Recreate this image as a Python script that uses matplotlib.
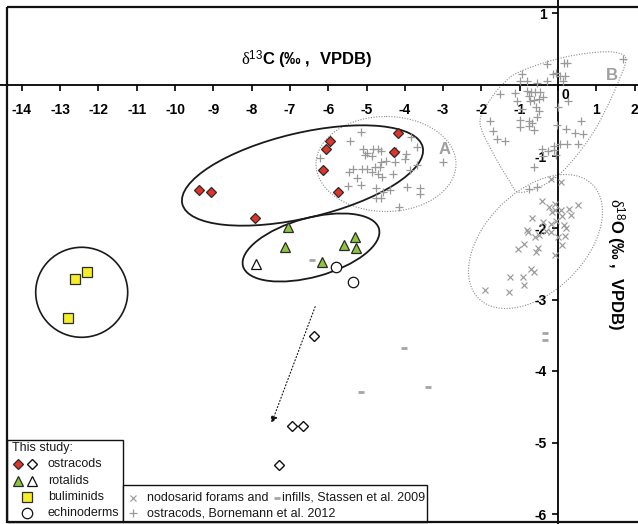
import numpy as np
import matplotlib
matplotlib.use('Agg')
import matplotlib.pyplot as plt
import matplotlib.transforms as mtransforms
from matplotlib.patches import Ellipse, Rectangle

plt.rcParams['font.family'] = ['Liberation Sans', 'DejaVu Sans']
plt.rcParams['mathtext.fontset'] = 'custom'
plt.rcParams['mathtext.rm'] = 'Liberation Serif'
plt.rcParams['mathtext.bf'] = 'Liberation Sans:bold'
plt.rcParams['mathtext.sf'] = 'Liberation Sans'
plt.rcParams['mathtext.it'] = 'Liberation Serif:italic'

# ---------------- data ----------------
ostracod_filled_x = [-4.17, -5.95, -6.06, -4.27, -6.13, -5.75, -9.37, -9.06, -7.91]
ostracod_filled_y = [-0.67, -0.78, -0.89, -0.94, -1.19, -1.49, -1.47, -1.49, -1.86]
ostracod_open_x = [-6.36, -6.95, -6.65, -7.28]
ostracod_open_y = [-3.51, -4.77, -4.77, -5.32]
rotalid_filled_x = [-7.04, -7.13, -5.29, -5.58, -5.27, -6.15]
rotalid_filled_y = [-1.99, -2.27, -2.12, -2.24, -2.28, -2.48]
rotalid_open_x = [-7.89]
rotalid_open_y = [-2.50]
buliminid_x = [-12.29, -12.60, -12.80]
buliminid_y = [-2.61, -2.71, -3.26]
echinoderm_x = [-5.80, -5.36]
echinoderm_y = [-2.55, -2.75]
infill_x = [-6.43, -4.01, -5.15, -3.40, -0.34, -0.34]
infill_y = [-2.45, -3.68, -4.29, -4.22, -3.47, -3.57]

bornemann_x = [
    # group A
    -5.15, -3.84, -5.43, -3.69, -5.10, -4.82, -4.69, -4.99, -4.63, -4.23, -3.97, -6.21,
    -5.04, -4.86, -4.49, -4.62, -4.26, -3.99, -3.01, -5.34, -5.13, -4.99, -4.78, -4.65,
    -5.45, -4.86, -4.69, -4.32, -5.26, -4.60, -3.86, -3.69, -5.47, -5.15, -4.76, -4.39,
    -3.95, -3.60, -3.60, -4.58, -4.75, -4.63, -4.14,
    # group B
    1.69, -0.28, 0.16, 0.24, -0.95, -1.00, -0.82, -0.56, -0.28, -0.14, -0.05, 0.05, 0.19,
    0.14, -1.51, -1.12, -0.82, -0.71, -0.60, -0.47, -0.77, -1.06, -0.73, -0.63, -0.49,
    -0.38, 0.27, -0.95, -0.57, -0.49, 0.01, -1.78, -1.00, -0.77, -0.54, -0.69, -1.00,
    -0.75, -0.63, -1.69, -1.59, -1.39, 0.59, -0.03, 0.21, 0.45, 0.65, 0.24, 0.53, 0.05,
    -0.10, -0.43, -0.27, -0.10, -0.05, -0.38, -0.63, -0.77, -0.54]
bornemann_y = [
    -0.66, -0.73, -0.79, -0.87, -0.89, -0.89, -0.89, -0.95, -0.92, -0.93, -0.96, -1.02,
    -0.98, -0.99, -1.06, -1.07, -1.07, -1.04, -1.07, -1.17, -1.17, -1.17, -1.14, -1.15,
    -1.22, -1.22, -1.25, -1.25, -1.30, -1.28, -1.19, -1.12, -1.41, -1.40, -1.44, -1.47,
    -1.42, -1.44, -1.52, -1.50, -1.58, -1.58, -1.70,
    0.36, 0.29, 0.31, 0.31, 0.16, 0.06, 0.06, 0.03, 0.06, 0.15, 0.17, 0.12, 0.13,
    0.06, -0.13, -0.11, -0.08, -0.10, -0.10, -0.10, -0.15, -0.22, -0.22, -0.21, -0.20,
    -0.17, -0.23, -0.33, -0.31, -0.36, -0.31, -0.50, -0.49, -0.50, -0.45, -0.53, -0.59,
    -0.58, -0.63, -0.65, -0.76, -0.79, -0.50, -0.56, -0.61, -0.67, -0.68, -0.82, -0.82,
    -0.82, -0.85, -0.90, -0.92, -0.91, -0.98, -1.00, -1.14, -1.46, -1.42]

stassen_x = [-0.18, 0.07, -0.43, -0.23, -0.09, -0.08, -0.15, 0.08, 0.11, 0.29, 0.34, 0.53,
             -0.67, -0.38, -0.17, -0.04, 0.16, 0.20, -0.82, -0.78, -0.60, -0.49, -0.32, -0.18,
             -0.01, 0.18, 0.11, -0.88, -1.05, -0.53, -0.58, -0.08, -0.70, -0.62, -1.25, -0.91,
             -0.88, -1.28, -1.91]
stassen_y = [-1.31, -1.35, -1.62, -1.70, -1.67, -1.75, -1.78, -1.75, -1.83, -1.73, -1.82, -1.68,
             -1.86, -1.91, -1.95, -1.90, -1.96, -2.00, -2.03, -2.06, -2.12, -2.10, -2.04, -2.06,
             -2.13, -2.11, -2.24, -2.23, -2.29, -2.28, -2.34, -2.38, -2.57, -2.61, -2.69, -2.69,
             -2.80, -2.89, -2.87]

arrow_start = (-6.34, -3.10)
arrow_end = (-7.48, -4.73)

x_ticks = list(range(-14, 3))
y_ticks = [-6, -5, -4, -3, -2, -1, 1]

# ---------------- figure ----------------
W, H = 638, 524
fig = plt.figure(figsize=(W / 100, H / 100), dpi=100)
ax = fig.add_axes([0, 0, 1, 1])
# pixel -> display transform (origin top-left)
T = mtransforms.Affine2D().scale(1 / W, -1 / H).translate(0, 1) + fig.transFigure

X0, SX, Y0, SY = 558.0, 38.3, 85.0, 71.5
xlim = (-X0 / SX, (W - X0) / SX)
ylim = ((Y0 - H) / SY, Y0 / SY)

RED = '#e2332b'
GREEN = '#8cc63e'
YELLOW = '#f7ee2a'
EDGE = '#2b2b2b'
GRAY = '#999999'

# group outlines (pixel space)
ax.add_patch(Ellipse((302.5, 175.5), 247, 85, angle=-13.3, transform=T, fill=False,
                     ec='#1a1a1a', lw=1.3, zorder=2))
ax.add_patch(Ellipse((311, 247.5), 141, 59, angle=-15.4, transform=T, fill=False,
                     ec='#1a1a1a', lw=1.3, zorder=2))
ax.add_patch(Ellipse((81.7, 292.3), 92, 90, angle=0, transform=T, fill=False,
                     ec='#1a1a1a', lw=1.2, zorder=2))
dot = (0, (1, 1.4))
ax.add_patch(Ellipse((386, 164), 140, 95, angle=0, transform=T, fill=False,
                     ec='#8a8a8a', lw=0.8, ls=dot, zorder=1))
ax.add_patch(Ellipse((535.5, 241.5), 161, 100, angle=-45, transform=T, fill=False,
                     ec='#8a8a8a', lw=0.8, ls=dot, zorder=1))


def catmull_closed(pts, n=16):
    P = np.array(pts, float)
    N = len(P)
    out = []
    t = np.linspace(0, 1, n, endpoint=False)[:, None]
    for i in range(N):
        p0, p1, p2, p3 = P[i - 1], P[i], P[(i + 1) % N], P[(i + 2) % N]
        out.append(0.5 * ((2 * p1) + (-p0 + p2) * t + (2 * p0 - 5 * p1 + 4 * p2 - p3) * t ** 2
                          + (-p0 + 3 * p1 - 3 * p2 + p3) * t ** 3))
    out = np.vstack(out)
    return np.vstack([out, out[:1]])


B_outline = [(480, 122), (492, 97), (503, 84), (515, 74), (540, 64), (570, 56), (600, 52),
             (618, 53), (626, 60), (617, 85), (607, 107), (593, 133), (573, 160), (555, 178),
             (535, 189), (518, 192), (510, 182), (493, 153)]
bc = catmull_closed(B_outline)
ax.plot(bc[:, 0], bc[:, 1], transform=T, color='#8a8a8a', lw=0.8, ls=dot, zorder=1)

# literature data
ax.plot(bornemann_x, bornemann_y, '+', ls='none', color=GRAY, ms=5.6, mew=0.9, zorder=3)
ax.plot(stassen_x, stassen_y, 'x', ls='none', color=GRAY, ms=4.4, mew=0.85, zorder=3)
ax.plot(infill_x, infill_y, '_', ls='none', color='#a5a5a5', ms=4, mew=2, zorder=3)

# this study
ax.plot(ostracod_filled_x, ostracod_filled_y, 'D', ls='none', mfc=RED, mec=EDGE, ms=5.3, mew=0.9, zorder=5)
ax.plot(ostracod_open_x, ostracod_open_y, 'D', ls='none', mfc='white', mec='#111111', ms=5.0, mew=1.0, zorder=5)
ax.plot(rotalid_filled_x, rotalid_filled_y, '^', ls='none', mfc=GREEN, mec=EDGE, ms=7, mew=0.9, zorder=5)
ax.plot(rotalid_open_x, rotalid_open_y, '^', ls='none', mfc='white', mec='#111111', ms=7, mew=0.9, zorder=5)
ax.plot(buliminid_x, buliminid_y, 's', ls='none', mfc=YELLOW, mec=EDGE, ms=7, mew=0.9, zorder=5)
ax.plot(echinoderm_x, echinoderm_y, 'o', ls='none', mfc='white', mec='#111111', ms=7.5, mew=0.9, zorder=5)

ax.annotate('', xy=arrow_end, xytext=arrow_start,
            arrowprops=dict(arrowstyle='-|>', color='#111111', lw=0.8, linestyle=(0, (1, 2)),
                            mutation_scale=10, shrinkA=0, shrinkB=0), zorder=4)

# region labels
ax.text(445, 150, 'A', transform=T, color='#a0a0a0', fontsize=12, fontweight='bold',
        ha='center', va='center')
ax.text(612, 76, 'B', transform=T, color='#a0a0a0', fontsize=12, fontweight='bold',
        ha='center', va='center')

# axes through origin
for s in ['top', 'right']:
    ax.spines[s].set_visible(False)
ax.spines['left'].set_position(('data', 0))
ax.spines['bottom'].set_position(('data', 0))
ax.spines['left'].set_linewidth(1.3)
ax.spines['bottom'].set_linewidth(1.3)
ax.spines['left'].set_zorder(2.5)
ax.spines['bottom'].set_zorder(2.5)

ax.set_xticks(x_ticks)
ax.set_xticklabels([str(v) if v != 0 else '' for v in x_ticks], fontweight='bold', fontsize=10)
ax.set_yticks(y_ticks)
ax.set_yticklabels([str(v) for v in y_ticks], fontweight='bold', fontsize=10)
ax.tick_params(axis='x', direction='out', length=4, width=1.2, pad=9)
ax.tick_params(axis='y', direction='out', length=4, width=1.2, pad=4)
ax.text(565, 95, '0', transform=T, fontsize=10, fontweight='bold', ha='center', va='center')

ax.set_xlim(*xlim)
ax.set_ylim(*ylim)

# axis titles
ax.text(307, 60, r'$\mathrm{\delta}^{\mathsf{13}}\mathbf{C\ (‰\ ,\ \ VPDB)}$', transform=T,
        fontsize=12, ha='center', va='center')
ax.text(615, 264, r'$\mathrm{\delta}^{\mathsf{18}}\mathbf{O\ (‰\ ,\ \ VPDB)}$', transform=T,
        fontsize=12, ha='center', va='center', rotation=270)

# outer frame
ax.add_patch(Rectangle((7, 7), 645, 515, transform=T, fill=False, ec='#111111', lw=1.6,
                       clip_on=False, zorder=10))

# legends
ax.add_patch(Rectangle((7, 440), 116, 82, transform=T, fill=True, fc='white', ec='#111111',
                       lw=1.0, clip_on=False, zorder=8))
ax.add_patch(Rectangle((123, 485), 304, 37, transform=T, fill=True, fc='white', ec='#111111',
                       lw=1.0, clip_on=False, zorder=8))
tk = dict(transform=T, fontsize=9, ha='left', va='center', color='#1a1a1a', zorder=9)
ax.text(12, 448, 'This study:', **tk)
ax.text(48, 464, 'ostracods', **tk)
ax.text(48, 481, 'rotalids', **tk)
ax.text(48, 497, 'buliminids', **tk)
ax.text(48, 513, 'echinoderms', **tk)
ax.text(147, 498, 'nodosarid forams and', **tk)
ax.text(282, 498, 'infills, Stassen et al. 2009', **tk)
ax.text(147, 513, 'ostracods, Bornemann et al. 2012', **tk)

mk = dict(transform=T, ls='none', clip_on=False, zorder=9)
ax.plot([18], [464], 'D', mfc=RED, mec=EDGE, ms=5.3, mew=0.9, **mk)
ax.plot([32], [464], 'D', mfc='white', mec='#111111', ms=5.0, mew=1.0, **mk)
ax.plot([18], [481], '^', mfc=GREEN, mec=EDGE, ms=7, mew=0.9, **mk)
ax.plot([32], [481], '^', mfc='white', mec='#111111', ms=7, mew=0.9, **mk)
ax.plot([27], [497], 's', mfc=YELLOW, mec=EDGE, ms=7, mew=0.9, **mk)
ax.plot([27], [513], 'o', mfc='white', mec='#111111', ms=7.5, mew=0.9, **mk)
ax.plot([133], [498], 'x', color=GRAY, ms=4.4, mew=0.85, **mk)
ax.plot([277], [498], '_', color='#a5a5a5', ms=4, mew=2, **mk)
ax.plot([133], [513], '+', color=GRAY, ms=5.6, mew=0.9, **mk)

fig.savefig('out.png', dpi=100)
